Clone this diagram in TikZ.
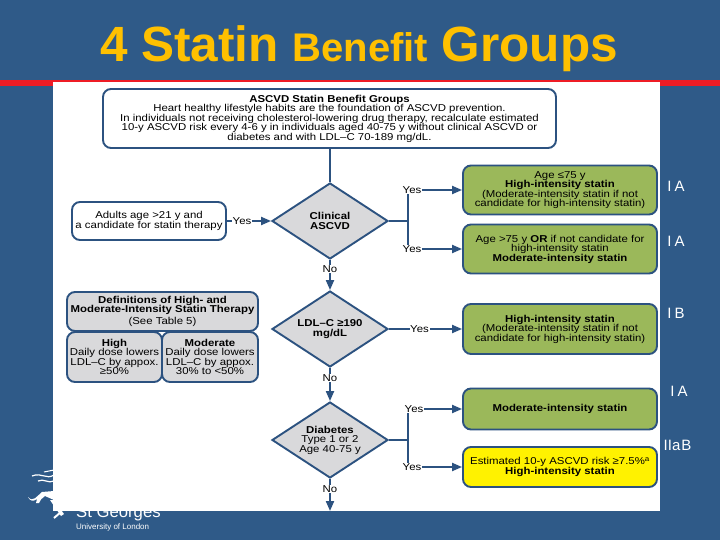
\documentclass[tikz,border=0pt]{standalone}
\usepackage{fontspec}
\setmainfont{Liberation Sans}
\newfontfamily\wide[FakeStretch=1.14]{Liberation Sans}
\usetikzlibrary{shapes.geometric,arrows.meta}
\definecolor{bgblue}{HTML}{2F5A88}
\definecolor{lineblue}{HTML}{2C5280}
\definecolor{boxgreen}{HTML}{9BB85A}
\definecolor{boxgray}{HTML}{D9D9DB}
\definecolor{titlegold}{HTML}{FFC000}
\definecolor{stripe}{HTML}{EE1C25}
\newcommand{\fs}[2]{\fontsize{#1}{#2}\selectfont}
\tikzset{
 rbox/.style={draw=lineblue,line width=1.9pt,rounded corners=8pt,align=center,inner sep=0pt,font=\wide\fs{10}{9.5}},
 greenbox/.style={rbox,fill=boxgreen,minimum width=194pt},
 whitebox/.style={rbox,fill=white},
 graybox/.style={rbox,fill=boxgray},
 decision/.style={diamond,draw=lineblue,line width=1.9pt,fill=boxgray,aspect=1.5,minimum width=116pt,minimum height=76pt,inner sep=0pt,align=center,font=\wide\fs{10}{9.5}},
 lab/.style={inner sep=0.5pt,font=\wide\fs{10}{10}},
 conn/.style={draw=lineblue,line width=2pt},
 arr/.style={conn,-{Triangle[length=10pt,width=8pt]}},
 grade/.style={text=white,font=\fs{15}{15},inner sep=0pt},
}
\begin{document}
\begin{tikzpicture}[x=1pt,y=-1pt]
\useasboundingbox (0,0) rectangle (720,540);
\fill[bgblue] (0,0) rectangle (720,540);
% logo
\node[text=white,font=\fs{16.7}{16.7},anchor=base west,inner sep=0pt] (logoa) at (76,517) {St Georges};
\node[text=white,font=\fs{8}{8},anchor=base west,inner sep=0pt] (logob) at (76,529) {University of London};
\draw[white,line width=1.2pt] (32,476) .. controls (42,472) and (46,480) .. (54,475);
\draw[white,line width=1.2pt] (38,481) .. controls (44,478) and (48,484) .. (54,481);
\draw[white,line width=1pt] (44,472) -- (54,470);
\fill[white] (28,497) .. controls (33,503) and (37,496) .. (42,492) -- (54,491) -- (54,500) -- (45,496) .. controls (42,498) and (40,500) .. (39,503) -- (36,503) -- (37,499) .. controls (33,502) and (30,501) .. (28,497) -- cycle;
\fill[white] (50,500) -- (54,500) -- (64,514) -- (61,516) -- cycle;
\draw[white,line width=2pt] (54,518) -- (61,512);
% stripe and picture
\fill[stripe] (0,80) rectangle (720,86);
\fill[white] (53,82) rectangle (660,511);
% title
\node[text=titlegold,font=\bfseries\fs{49.5}{49.5},anchor=base,inner sep=0pt] (title) at (359,62) {4 Statin {\fs{40}{40}Benefit} Groups};
% boxes
\node[whitebox,minimum width=453pt,minimum height=59pt] (top) at (329.5,118.5) {\textbf{ASCVD Statin Benefit Groups}\\Heart healthy lifestyle habits are the foundation of ASCVD prevention.\\In individuals not receiving cholesterol-lowering drug therapy, recalculate estimated\\10-y ASCVD risk every 4-6 y in individuals aged 40-75 y without clinical ASCVD or\\diabetes and with LDL–C 70-189 mg/dL.};
\node[decision] (d1) at (330,221) {\textbf{Clinical}\\\textbf{ASCVD}};
\node[decision] (d2) at (330,329) {\textbf{LDL–C ≥190}\\\textbf{mg/dL}};
\node[decision] (d3) at (330,440) {\textbf{Diabetes}\\Type 1 or 2\\Age 40-75 y};
\node[whitebox,minimum width=154pt,minimum height=38pt] (adults) at (149,221) {Adults age >21 y and\\a candidate for statin therapy};
\node[graybox,minimum width=191pt,minimum height=39pt] (def) at (162.5,311.5) {\textbf{Definitions of High- and}\\\textbf{Moderate-Intensity Statin Therapy}\\[2.5pt](See Table 5)};
\node[graybox,minimum width=95pt,minimum height=50pt] (high) at (114.5,357) {\textbf{High}\\Daily dose lowers\\LDL–C by appox.\\≥50\%};
\node[graybox,minimum width=96pt,minimum height=50pt] (mod) at (210,357) {\textbf{Moderate}\\Daily dose lowers\\LDL–C by appox.\\30\% to <50\%};
\node[greenbox,minimum height=49pt] (g1) at (560,190) {Age ≤75 y\\\textbf{High-intensity statin}\\(Moderate-intensity statin if not\\candidate for high-intensity statin)};
\node[greenbox,minimum height=49pt] (g2) at (560,249) {Age >75 y \textbf{OR} if not candidate for\\high-intensity statin\\\textbf{Moderate-intensity statin}};
\node[greenbox,minimum height=50pt] (g3) at (560,329) {\textbf{High-intensity statin}\\(Moderate-intensity statin if not\\candidate for high-intensity statin)};
\node[greenbox,minimum height=41pt] (g4) at (560,409) {\textbf{Moderate-intensity statin}};
\node[rbox,fill=yellow,minimum width=194pt,minimum height=40pt] (g5) at (560,467) {Estimated 10-y ASCVD risk ≥7.5\%\textsuperscript{a}\\\textbf{High-intensity statin}};
% labels
\node[lab] (yesa) at (242,221) {Yes};
\node[lab] (no1) at (330,269) {No};
\node[lab] (no2) at (330,378) {No};
\node[lab] (no3) at (330,489) {No};
\node[lab] (y1) at (412,190) {Yes};
\node[lab] (y2) at (412,249) {Yes};
\node[lab] (y3) at (419.5,329) {Yes};
\node[lab] (y4) at (414,409) {Yes};
\node[lab] (y5) at (412,467) {Yes};
\coordinate (b1) at (408,221);
\coordinate (b3) at (408,440);
\coordinate (exit) at (330,511);
% connectors
\draw[conn] (top.south -| d1.north) -- (d1.north);
\draw[conn] (adults.east) -- (yesa.west);
\draw[arr] (yesa.east) -- (d1.west);
\draw[conn] (d1.south) -- (no1.north);
\draw[arr] (no1.south) -- (d2.north);
\draw[conn] (d2.south) -- (no2.north);
\draw[arr] (no2.south) -- (d3.north);
\draw[conn] (d3.south) -- (no3.north);
\draw[arr] (no3.south) -- (exit);
\draw[conn] (d1.east) -- (b1);
\draw[conn] (y1.south -| b1) -- (y2.north -| b1);
\draw[arr] (y1.east) -- (g1.west);
\draw[arr] (y2.east) -- (g2.west);
\draw[conn] (d2.east) -- (y3.west);
\draw[arr] (y3.east) -- (g3.west);
\draw[conn] (d3.east) -- (b3);
\draw[conn] (y4.south -| b3) -- (y5.north -| b3);
\draw[arr] (y4.east) -- (g4.west);
\draw[arr] (y5.east) -- (g5.west);
% grades
\node[grade] (ga) at (676,186) {I\kern3pt A};
\node[grade] (gb) at (676,241) {I\kern3pt A};
\node[grade] (gc) at (676,313) {I\kern3pt B};
\node[grade] (gd) at (679,391) {I\kern3pt A};
\node[grade] (ge) at (677.5,445) {IIa\kern1pt B};
\end{tikzpicture}
\end{document}
